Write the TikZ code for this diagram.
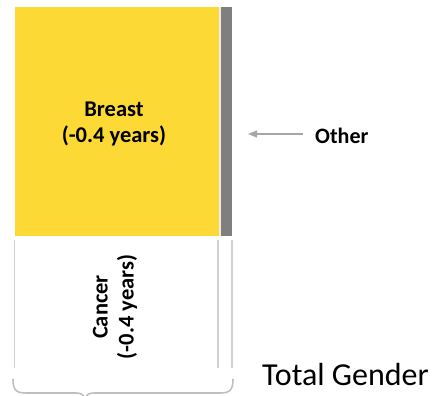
\documentclass[tikz,border=0pt]{standalone}
\usepackage{fontspec}
\setmainfont{Carlito}
\usetikzlibrary{arrows.meta}
\definecolor{barY}{HTML}{FDD935}
\definecolor{barG}{HTML}{7F7F7F}
\definecolor{lineG}{HTML}{D0D0D0}
\definecolor{braceG}{HTML}{BFBFBF}
\definecolor{arrG}{HTML}{A6A6A6}
\tikzset{
  lbl/.style={font=\bfseries\fontsize{22.5}{26}\selectfont, align=center, inner sep=0pt},
  guide/.style={draw=lineG, line width=1.6pt},
  bracestyle/.style={draw=braceG, line width=1.6pt},
}
\begin{document}
\begin{tikzpicture}[x=1pt,y=-1pt]
\useasboundingbox (0,0) rectangle (442,396);
% bars
\fill[barY] (15,7) rectangle (219,236);
\fill[white!85!gray] (219,7) rectangle (220.5,236);
\fill[barG] (220.5,7) rectangle (232,236);
% labels
\node[lbl] (breast) at (114,124) {Breast\\(-0.4 years)};
\node[lbl, rotate=90] (cancer) at (115,307) {Cancer\\(-0.4 years)};
\node[lbl, font=\bfseries\fontsize{22}{26}\selectfont, anchor=base west] (other) at (315,143) {Other};
\coordinate (otherTip) at (248,134);
\draw[arrG, line width=1.2pt, -{Triangle[length=9pt,width=7pt]}] (303,134) -- (otherTip);
% guide lines
\draw[guide] (14.5,240) -- (14.5,368);
\draw[guide] (218,240) -- (218,368);
\draw[guide] (232,240) -- (232,368);
% brace
\draw[bracestyle] (13,379) .. controls (13,390) and (16,393) .. (26,393)
  -- (76,393) .. controls (82,393) and (84,395) .. (85,400);
\draw[bracestyle] (233,379) .. controls (233,390) and (230,393) .. (220,393)
  -- (94,393) .. controls (88,393) and (86,395) .. (85,400);
\node[font=\fontsize{32}{36}\selectfont, anchor=base west, inner sep=0pt] (total) at (262,385) {Total Gender};
\end{tikzpicture}
\end{document}
